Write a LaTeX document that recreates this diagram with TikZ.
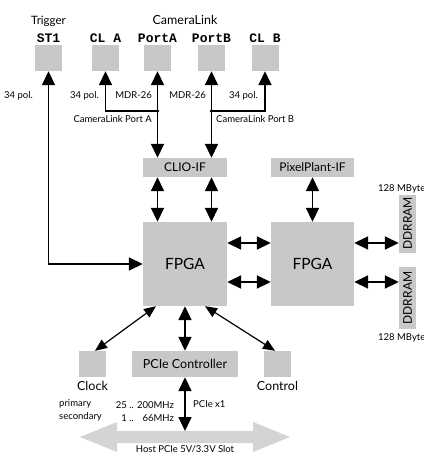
\documentclass[tikz,border=0pt]{standalone}
\usepackage{fontspec}
\setmainfont{Lato}
\setmonofont{Liberation Mono}
\usetikzlibrary{arrows.meta, positioning}
\definecolor{boxgray}{HTML}{C8C8C8}
\definecolor{slotgray}{HTML}{D4D4D4}

\begin{document}
\begin{tikzpicture}[x=1pt, y=-1pt, >={Triangle[length=14pt,width=13pt]}]
  \tikzstyle{port}=[rectangle, fill=boxgray, minimum width=27pt,
                    minimum height=26pt, inner sep=0pt]
  \tikzstyle{ifbox}=[rectangle, fill=boxgray, minimum width=84pt,
                    minimum height=19pt, inner sep=0pt,
                    font=\fontsize{12}{14}\selectfont]
  \tikzstyle{chip}=[rectangle, fill=boxgray, minimum width=84pt,
                    minimum height=84pt, font=\fontsize{15.5}{18}\selectfont]
  \tikzstyle{ram}=[rectangle, fill=boxgray, minimum width=17pt,
                    minimum height=58pt, inner sep=0pt,
                    font=\fontsize{12}{14}\selectfont]
  \tikzstyle{lbl}=[inner sep=1pt, font=\fontsize{12.5}{15}\selectfont]
  \tikzstyle{note}=[inner sep=1pt, font=\fontsize{9.5}{13}\selectfont]
  \tikzstyle{mono}=[inner sep=1pt, font=\ttfamily\bfseries\fontsize{13}{15}\selectfont]
  \tikzstyle{arr}=[->, line width=1.7pt]
  \tikzstyle{darr}=[<->, line width=1.7pt]
  \tikzstyle{thinarr}=[{Triangle[length=12pt,width=10pt]}-{Triangle[length=12pt,width=10pt]},
                    line width=1.2pt]

  \useasboundingbox (0,0) rectangle (423,452);

  % connectors
  \node[port] (st1) at (48.5,58) {};
  \node[port] (cla) at (105.5,58) {};
  \node[port] (porta) at (157.5,58) {};
  \node[port] (portb) at (211.5,58) {};
  \node[port] (clb) at (265,58) {};
  \node[mono, anchor=base] (st1lbl) at (st1 |- 0,42) {ST1};
  \node[mono, anchor=base] (clalbl) at (cla |- 0,42) {CL A};
  \node[mono, anchor=base] (portalbl) at (porta |- 0,42) {PortA};
  \node[mono, anchor=base] (portblbl) at (portb |- 0,42) {PortB};
  \node[mono, anchor=base] (clblbl) at (clb |- 0,42) {CL B};
  \node[lbl, anchor=base, font=\fontsize{11.5}{14}\selectfont] (trig) at (st1 |- 0,25) {Trigger};
  \node[lbl, anchor=base] (camlink) at (185,25) {CameraLink};

  % boards
  \node[ifbox] (clio) at (185,167.5) {CLIO-IF};
  \node[ifbox, minimum width=83pt] (pixel) at (312.5,167.5) {PixelPlant-IF};
  \node[chip] (fpga1) at (185,264) {FPGA};
  \node[chip, minimum width=83pt] (fpga2) at (312.5,264) {FPGA};
  \node[ram] (ddr1) at (407.5,223.5) {\rotatebox{90}{DDRRAM}};
  \node[ram, minimum height=62pt] (ddr2) at (407.5,298) {\rotatebox{90}{DDRRAM}};
  \node[note, anchor=base west] (mb1) at (377,191) {128 MBytes};
  \node[note, anchor=base west] (mb2) at (377,340) {128 MBytes};

  \node[port] (clock) at (92.5,364) {};
  \node[port, minimum width=106pt] (pcie) at (185,364) {};
  \node[lbl] at (pcie) {PCIe Controller};
  \node[port] (ctrl) at (277.5,364) {};
  \node[lbl, below=3pt of clock] (clocklbl) {Clock};
  \node[lbl, below=3pt of ctrl] (ctrllbl) {Control};

  % cable labels
  \node[note, anchor=base east] (pol1) at (34,98) {34 pol.};
  \node[note, anchor=base east] (pol2) at (100,98) {34 pol.};
  \node[note, anchor=base east] (mdra) at (153,98) {MDR-26};
  \node[note, anchor=base east] (mdrb) at (207,98) {MDR-26};
  \node[note, anchor=base east] (pol3) at (259,98) {34 pol.};
  \node[note, anchor=base east] (cpa) at (153,122) {CameraLink Port A};
  \node[note, anchor=base west] (cpb) at (215,122) {CameraLink Port B};

  \coordinate (ja) at (porta.south |- 0,111);
  \coordinate (jb) at (portb.south |- 0,111);
  \draw[darr] (st1.south) |- (fpga1.west);
  \draw[darr] (porta.south) -- (porta.south |- clio.north);
  \draw[darr] (portb.south) -- (portb.south |- clio.north);
  \draw[arr] (ja) -| (cla.south);
  \draw[arr] (jb) -| (clb.south);
  \fill (ja) circle (1.8pt);
  \fill (jb) circle (1.8pt);

  \draw[darr] (porta.south |- clio.south) -- (porta.south |- fpga1.north);
  \draw[darr] (portb.south |- clio.south) -- (portb.south |- fpga1.north);
  \draw[darr] (pixel) -- (fpga2);
  \foreach \y in {243,282} {
    \draw[darr] (fpga1.east |- 0,\y) -- (fpga2.west |- 0,\y);
    \draw[darr] (fpga2.east |- 0,\y) -- (ddr1.west |- 0,\y);
  }

  \draw[thinarr] ([xshift=2.5pt]clock.north) -- ([xshift=-29pt]fpga1.south);
  \draw[darr] (fpga1.south) -- (pcie.north);
  \draw[thinarr] ([xshift=-2.5pt]ctrl.north) -- ([xshift=20pt]fpga1.south);

  % host slot
  \fill[slotgray] (80,437) -- (117,422) -- (117,431) -- (253,431) -- (253,422)
    -- (290,437) -- (253,452) -- (253,443) -- (117,443) -- (117,452) -- cycle;
  \coordinate (slot) at (185,431);
  \node[note, anchor=north] (slotlbl) at (185,444) {Host PCIe 5V/3.3V Slot};
  \draw[darr] (pcie.south) -- (slot);

  \node[note, anchor=north west, align=left] (clkkind) at (58,398) {primary\\secondary};
  \node[note, anchor=north east] (clkfreq) at (175,398)
    {\begin{tabular}{@{}r@{ .. }r@{}}25 & 200MHz\\1 & 66MHz\end{tabular}};
  \node[note, anchor=base west] (pcielink) at (192,407) {PCIe x1};
\end{tikzpicture}
\end{document}
